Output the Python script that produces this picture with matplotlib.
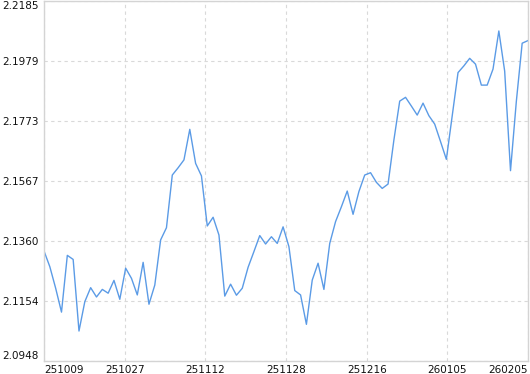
import numpy as np
import matplotlib
matplotlib.use('Agg')
import matplotlib.pyplot as plt

# daily values (84 points)
values = [
    2.1326, 2.1272, 2.1198, 2.1116, 2.1311, 2.1297, 2.1051, 2.1152, 2.1200, 2.1168,
    2.1194, 2.1181, 2.1225, 2.1160, 2.1267, 2.1232, 2.1175, 2.1287, 2.1143, 2.1209,
    2.1364, 2.1406, 2.1587, 2.1612, 2.1639, 2.1744, 2.1627, 2.1584, 2.1412, 2.1442,
    2.1381, 2.1171, 2.1212, 2.1174, 2.1198, 2.1270, 2.1324, 2.1379, 2.1350, 2.1375,
    2.1352, 2.1409, 2.1341, 2.1190, 2.1175, 2.1074, 2.1226, 2.1284, 2.1194, 2.1352,
    2.1427, 2.1478, 2.1532, 2.1452, 2.1530, 2.1587, 2.1595, 2.1562, 2.1541, 2.1556,
    2.1707, 2.1841, 2.1854, 2.1824, 2.1793, 2.1834, 2.1791, 2.1762, 2.1702, 2.1641,
    2.1790, 2.1939, 2.1962, 2.1988, 2.1968, 2.1896, 2.1896, 2.1951, 2.2082, 2.1944,
    2.1602, 2.1840, 2.2040, 2.2049,
]
x_labels = ['251009', '251027', '251112', '251128', '251216', '260105', '260205']
y_labels = ['2.0948', '2.1154', '2.1360', '2.1567', '2.1773', '2.1979', '2.2185']
y_min, y_max = 2.0948, 2.2185

n = len(values)
xs = np.arange(n)
grid_x = np.linspace(0, n - 1, 7)
grid_y = np.linspace(y_min, y_max, 7)

fig = plt.figure(figsize=(5.30, 3.74), dpi=100)
ax = fig.add_axes([44 / 530, 13 / 374, 484 / 530, 360 / 374])

ax.plot(xs, values, color='#5b9be6', lw=1.0)

ax.set_xlim(0, n - 1)
ax.set_ylim(y_min, y_max)
ax.set_xticks(grid_x)
ax.set_xticklabels(x_labels)
ax.set_yticks(grid_y)
ax.set_yticklabels(y_labels)
ax.grid(True, color='#d9d9d9', lw=0.8, ls=(0, (3, 3)))
ax.tick_params(length=0, labelsize=7.5, colors='#111111', pad=3)
ax.tick_params(axis='y', pad=4)

for s in ax.spines.values():
    s.set_color('#d4d4d4')
    s.set_linewidth(1.0)

xl = ax.get_xticklabels()
xl[0].set_ha('left')
xl[-1].set_ha('right')
yl = ax.get_yticklabels()
yl[0].set_va('bottom')
yl[-1].set_va('top')

fig.savefig('out.png', dpi=100)
